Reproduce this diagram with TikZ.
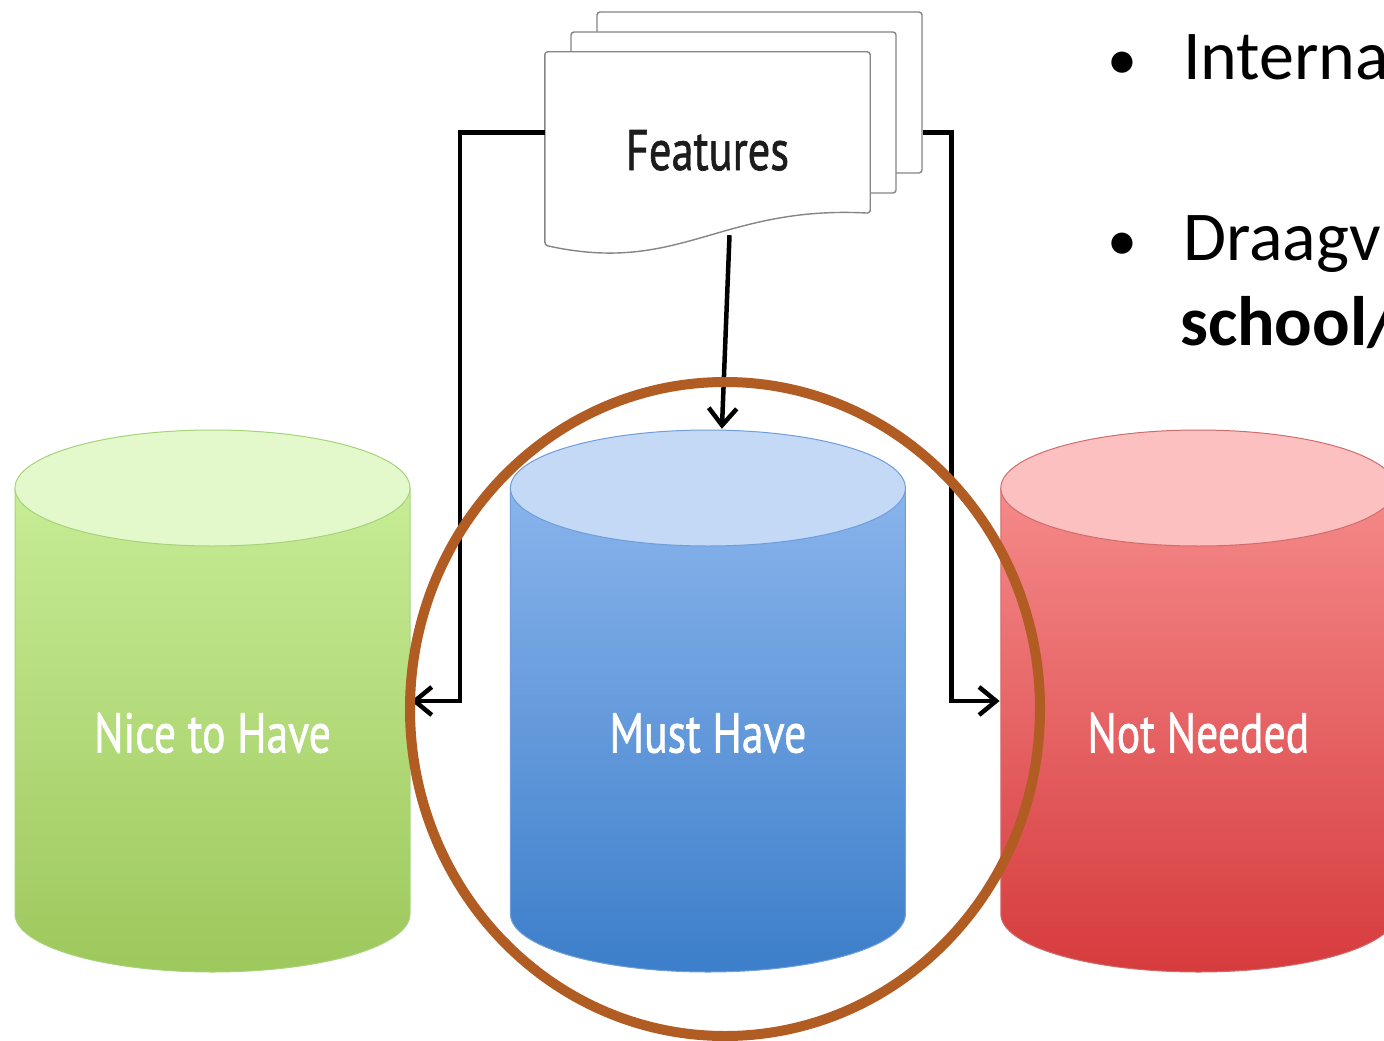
\documentclass[tikz,border=0pt]{standalone}
\usepackage{fontspec}
\usepackage{graphicx}
\setmainfont{Carlito}
\newfontfamily\labelfont{PT Sans}[FakeBold=1.3]
\usetikzlibrary{arrows.meta,positioning,shapes.geometric,backgrounds}

\definecolor{nicecap}{HTML}{E3F9CC}
\definecolor{nicetop}{HTML}{CCF19D}
\definecolor{nicebot}{HTML}{9DC85C}
\definecolor{niceedge}{HTML}{A6D27A}
\definecolor{mustcap}{HTML}{C3D9F5}
\definecolor{musttop}{HTML}{93BBF0}
\definecolor{mustbot}{HTML}{3C7ECA}
\definecolor{mustedge}{HTML}{6F9EDA}
\definecolor{notcap}{HTML}{FDC0C0}
\definecolor{nottop}{HTML}{F99393}
\definecolor{notbot}{HTML}{D63B3D}
\definecolor{notedge}{HTML}{CF6C6C}
\definecolor{ringbrown}{HTML}{B05C23}
\definecolor{sheetgray}{HTML}{858585}
\definecolor{featink}{HTML}{1C1C1C}

\newcommand\squeeze[1]{\scalebox{0.78}[1]{#1}}
\newcommand\droptext[2]{\raisebox{-#1}[0pt][0pt]{#2}}

\begin{document}
\begin{tikzpicture}[
    x=1pt, y=-1pt,
    >={Straight Barb[length=17pt,width=28pt]},
    sheet/.style={draw=sheetgray, line width=1.4pt, fill=white, rounded corners=3pt,
      minimum width=325pt, minimum height=161pt, inner sep=0pt},
    sheetline/.style={draw=sheetgray, line width=1.4pt, fill=white, rounded corners=3pt},
    link/.style={->, line width=4.5pt, black},
    tank/.style n args={4}{minimum width=397pt, minimum height=544pt, inner sep=0pt,
      font=\labelfont\fontsize{56}{60}\selectfont, text=white,
      path picture={
        \path[top color=#1, bottom color=#2, draw=#4, line width=1pt]
          ([shift={(1,59)}]path picture bounding box.north west)
          -- ([shift={(1,-59)}]path picture bounding box.south west)
          arc[start angle=180, end angle=360, x radius=197.5pt, y radius=58pt]
          -- ([shift={(-1,59)}]path picture bounding box.north east) -- cycle;
        \path[fill=#3, draw=#4, line width=1pt]
          ([yshift=-59pt]path picture bounding box.north)
          ellipse[x radius=197.5pt, y radius=58pt];
      }},
    ring/.style={ellipse, draw=ringbrown, line width=10pt,
      minimum width=630pt, minimum height=654pt},
    listtext/.style={font=\fontsize{70}{84}\selectfont, anchor=base west, inner sep=0pt}
  ]
  \useasboundingbox (0,0) rectangle (1384,1041);

  % --- Feature sheets ---
  \node[font=\labelfont\fontsize{57}{60}\selectfont, text=featink,
    minimum width=325pt, minimum height=161pt, inner sep=0pt] (feat) at (707.5,132.5)
    {\droptext{37.5pt}{\squeeze{Features}}};
  \begin{scope}[on background layer]
    \node[sheet] (sheet3) at ([shift={(52,-40)}]feat.center) {};
    \node[sheet] (sheet2) at ([shift={(26,-20)}]feat.center) {};
    \draw[sheetline] (feat.south east) -- (feat.north east) -- (feat.north west)
      -- ([yshift=-32pt]feat.south west)
      .. controls +(135,30) and +(-150,-8) .. (feat.south east) -- cycle;
  \end{scope}

  % --- Cylinders ---
  \node[tank={nicetop}{nicebot}{nicecap}{niceedge}] (nice) at (212.5,701)
    {\droptext{51.5pt}{\squeeze{Nice to Have}}};
  \node[tank={musttop}{mustbot}{mustcap}{mustedge}, right=98pt of nice] (must)
    {\droptext{51.5pt}{\squeeze{Must Have}}};
  \node[tank={nottop}{notbot}{notcap}{notedge}, right=93pt of must] (notneeded)
    {\droptext{51.5pt}{\squeeze{Not Needed}}};

  % --- Arrows ---
  \draw[link] (feat.west) -- ++(-85,0) |- (nice.east);
  \draw[link] (sheet3.east |- feat.west) -- ++(29,0) |- (notneeded.west);
  \draw[link] ([shift={(22,22)}]feat.south) -- ([xshift=14pt]must.north);

  % --- Highlight ---
  \node[ring] (focus) at (725,709) {};

  % --- Slide text ---
  \node[listtext] (item1) at (1183,80)
    {\llap{{\fontsize{60}{70}\selectfont\textbullet}\hspace{46pt}}Interna};
  \node[listtext] (item2) at (1183,260)
    {\llap{{\fontsize{60}{70}\selectfont\textbullet}\hspace{46pt}}Draagv};
  \node[listtext, font=\fontsize{70}{84}\selectfont\bfseries] (item3) at (1180,345) {school/};
\end{tikzpicture}
\end{document}
